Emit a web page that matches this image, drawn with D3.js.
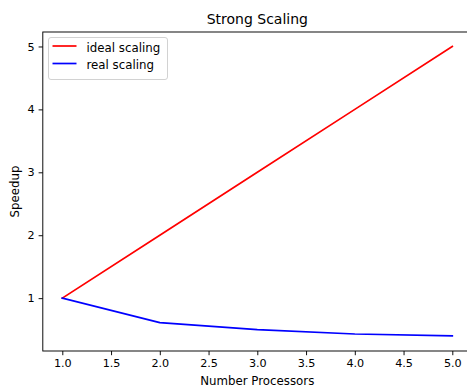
<!DOCTYPE html>
<html>
<head>
<meta charset="utf-8">
<script src="https://cdn.jsdelivr.net/npm/d3@7"></script>
<style>
body{margin:0;background:#fff;overflow:hidden;}
text{font-family:"DejaVu Sans",sans-serif;fill:#000;}
</style>
</head>
<body>
<div id="chart"></div>
<script>
var w = 467;
var h = 387;

// data
var processors = [1, 2, 3, 4, 5];
var idealSpeedup = [1, 2, 3, 4, 5];
var realSpeedup = [1, 0.61, 0.50, 0.43, 0.40];
var xTicks = [1.0, 1.5, 2.0, 2.5, 3.0, 3.5, 4.0, 4.5, 5.0];
var yTicks = [1, 2, 3, 4, 5];
var seriesNames = ["ideal scaling", "real scaling"];
var seriesColors = ["#ff0000", "#0000ff"];

// axes box (right edge falls outside the picture, as in the original)
var axLeft = 42.8, axRight = 471.8, axTop = 32, axBottom = 351;
var tickFont = 11.2, labelFont = 11.8, titleFont = 14;

var xScale = d3.scaleLinear().domain([0.8, 5.2]).range([axLeft, axRight]);
var yScale = d3.scaleLinear().domain([0.16, 5.23]).range([axBottom, axTop]);

var svgChart = d3.select("#chart").append("svg")
  .attr("width", w)
  .attr("height", h);

var line = d3.line()
  .x(function(d){ return xScale(d.x); })
  .y(function(d){ return yScale(d.y); });

var series = [idealSpeedup, realSpeedup].map(function(vals){
  return processors.map(function(p, i){ return {x: p, y: vals[i]}; });
});

var plot = svgChart.append("g");
series.forEach(function(s, i){
  plot.append("path")
    .datum(s)
    .attr("d", line)
    .attr("fill", "none")
    .attr("stroke", seriesColors[i])
    .attr("stroke-width", 1.7)
    .attr("stroke-linejoin", "round")
    .attr("stroke-linecap", "square");
});

// x axis
var xAxis = svgChart.append("g")
  .attr("transform", "translate(0," + axBottom + ")")
  .call(d3.axisBottom(xScale).tickValues(xTicks).tickFormat(d3.format(".1f")).tickSizeInner(4.2).tickSizeOuter(0).tickPadding(4));
xAxis.select(".domain").remove();
xAxis.selectAll("text").attr("font-size", tickFont).attr("font-family", "DejaVu Sans");
xAxis.selectAll("line").attr("stroke-width", 0.95);

// y axis
var yAxis = svgChart.append("g")
  .attr("transform", "translate(" + axLeft + ",0)")
  .call(d3.axisLeft(yScale).tickValues(yTicks).tickFormat(d3.format("d")).tickSizeInner(4.2).tickSizeOuter(0).tickPadding(4));
yAxis.select(".domain").remove();
yAxis.selectAll("text").attr("font-size", tickFont).attr("font-family", "DejaVu Sans");
yAxis.selectAll("line").attr("stroke-width", 0.95);

// spines
svgChart.append("rect")
  .attr("x", axLeft).attr("y", axTop)
  .attr("width", axRight - axLeft).attr("height", axBottom - axTop)
  .attr("fill", "none")
  .attr("stroke", "#000")
  .attr("stroke-width", 0.95);

// title and labels
svgChart.append("text")
  .attr("x", (axLeft + axRight) / 2)
  .attr("y", 23.5)
  .attr("text-anchor", "middle")
  .attr("font-size", titleFont)
  .text("Strong Scaling");

svgChart.append("text")
  .attr("x", (axLeft + axRight) / 2)
  .attr("y", 385)
  .attr("text-anchor", "middle")
  .attr("font-size", labelFont)
  .text("Number Processors");

svgChart.append("text")
  .attr("transform", "translate(18.5," + ((axTop + axBottom) / 2) + ") rotate(-90)")
  .attr("text-anchor", "middle")
  .attr("font-size", labelFont)
  .text("Speedup");

// legend
var legend = svgChart.append("g").attr("transform", "translate(48.5,37.5)");
legend.append("rect")
  .attr("width", 119).attr("height", 42)
  .attr("rx", 2.5)
  .attr("fill", "#fff")
  .attr("fill-opacity", 0.8)
  .attr("stroke", "#d0d0d0")
  .attr("stroke-width", 0.95);
seriesNames.forEach(function(name, i){
  var yy = 8.5 + i * 17.5;
  legend.append("line")
    .attr("x1", 4).attr("x2", 28)
    .attr("y1", yy).attr("y2", yy)
    .attr("stroke", seriesColors[i])
    .attr("stroke-width", 1.7);
  legend.append("text")
    .attr("x", 38).attr("y", yy + 5.5)
    .attr("font-size", labelFont)
    .text(name);
});
</script>
</body>
</html>
